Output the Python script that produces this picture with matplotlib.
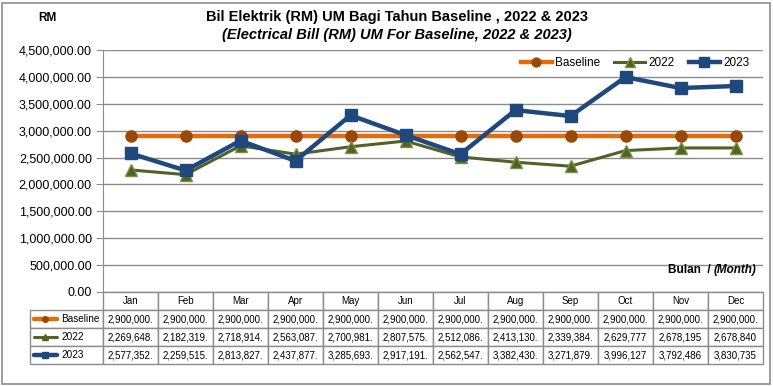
import numpy as np
import matplotlib.pyplot as plt
from matplotlib.lines import Line2D

plt.rcParams['font.family'] = ['Liberation Sans', 'DejaVu Sans']

months = ["Jan", "Feb", "Mar", "Apr", "May", "Jun",
          "Jul", "Aug", "Sep", "Oct", "Nov", "Dec"]
baseline = [2900000] * 12
y2022 = [2269648, 2182319, 2718914, 2563087, 2700981, 2807575,
         2512086, 2413130, 2339384, 2629777, 2678195, 2678840]
y2023 = [2577352, 2259515, 2813827, 2437877, 3285693, 2917191,
         2562547, 3382430, 3271879, 3996127, 3792486, 3830735]
series_names = ["Baseline", "2022", "2023"]
yticks = np.arange(0, 4500001, 500000)

c_base = "#E46C0A"
c_base_mk = "#984807"
c_2022 = "#4F6228"
c_2023 = "#1F497D"
grid_c = "#8C8C8C"

W, H = 773, 386
fig = plt.figure(figsize=(W / 100, H / 100), dpi=100)
fig.patch.set_facecolor("white")
ax = fig.add_axes([103 / W, 1 - 292 / H, 660 / W, 242 / H])

x = np.arange(12) + 0.5
ax.plot(x, baseline, color=c_base, lw=3.2, marker="o", ms=8,
        mfc=c_base_mk, mec=c_base_mk, label="Baseline", zorder=3)
ax.plot(x, y2022, color=c_2022, lw=2.2, marker="^", ms=8.5,
        mfc=c_2022, mec="#77933C", label="2022", zorder=4)
ax.plot(x, y2023, color=c_2023, lw=3.2, marker="s", ms=8.5,
        mfc=c_2023, mec=c_2023, label="2023", zorder=5)

ax.set_xlim(0, 12)
ax.set_ylim(0, 4500000)
ax.set_yticks(yticks)
ax.set_yticklabels([f"{v:,.2f}" for v in yticks], fontsize=9)
ax.set_xticks([])
ax.yaxis.grid(True, color=grid_c, lw=1)
ax.set_axisbelow(True)
for s in ["top", "right", "bottom"]:
    ax.spines[s].set_visible(False)
ax.spines["left"].set_color(grid_c)
ax.tick_params(axis="y", color=grid_c, length=5, pad=3)

ax.legend(loc="upper right", bbox_to_anchor=(0.99, 1.0), ncol=3, frameon=False,
          fontsize=8.5, handlelength=2.6, columnspacing=1.2, handletextpad=0.3,
          borderaxespad=0.2, markerscale=0.8)

# data table under the plot
def fmt(v, name, i):
    s = f"{v:,.0f}"
    return s if (name != "Baseline" and i >= 9) else s + "."

rows = [[""] + [fmt(v, name, i) for i, v in enumerate(vals)]
        for name, vals in zip(series_names, (baseline, y2022, y2023))]
lab_w = 73 / 660
tab_h = 72 / 242
tbl = ax.table(cellText=rows, colLabels=[""] + months,
               colWidths=[73] + [55] * 12,
               bbox=[-lab_w, -tab_h, 1 + lab_w, tab_h], cellLoc="center")
tbl.auto_set_font_size(False)
tbl.set_fontsize(7)
for (r, c), cell in tbl.get_celld().items():
    cell.set_edgecolor(grid_c)
    cell.set_linewidth(1)
    if r == 0 and c == 0:
        cell.set_visible(False)

styles = [(c_base, "o", c_base_mk, 3.2, 4), (c_2022, "^", c_2022, 2.2, 4),
          (c_2023, "s", c_2023, 3.2, 5)]
row_h = tab_h / 4
for i, (name, st) in enumerate(zip(series_names, styles)):
    yc = -tab_h + row_h * (2.5 - i)
    x0 = -lab_w + 4 / 660
    x1 = -lab_w + 27 / 660
    ax.add_line(Line2D([x0, x1], [yc, yc], transform=ax.transAxes, color=st[0],
                       lw=st[3], clip_on=False, solid_capstyle="round"))
    ax.add_line(Line2D([(x0 + x1) / 2], [yc], transform=ax.transAxes, marker=st[1],
                       ms=st[4], mfc=st[2], mec=st[2], clip_on=False, lw=0))
    ax.text(x1 + 4 / 660, yc, name, transform=ax.transAxes, fontsize=7.2,
            va="center", ha="left")

# titles and labels
fig.text(397 / W, 1 - 17 / H, "Bil Elektrik (RM) UM Bagi Tahun Baseline , 2022 & 2023",
         ha="center", va="center", fontsize=10.5, fontweight="bold")
fig.text(397 / W, 1 - 35 / H, "(Electrical Bill (RM) UM For Baseline, 2022 & 2023)",
         ha="center", va="center", fontsize=10.5, fontweight="bold", style="italic")
fig.text(47 / W, 1 - 18 / H, "RM", ha="center", va="center", fontsize=8.5,
         fontweight="bold")
fig.text(714 / W, 1 - 270 / H, "Bulan  / ", ha="right", va="center", fontsize=8.5,
         fontweight="bold")
fig.text(714 / W, 1 - 270 / H, "(Month)", ha="left", va="center", fontsize=8.5,
         fontweight="bold", style="italic")

# outer border
fig.add_artist(plt.Rectangle((2 / W, 2 / H), 1 - 5 / W, 1 - 5 / H, transform=fig.transFigure,
                             fill=False, edgecolor=grid_c, lw=1.2))

fig.savefig("out.png", dpi=100)
